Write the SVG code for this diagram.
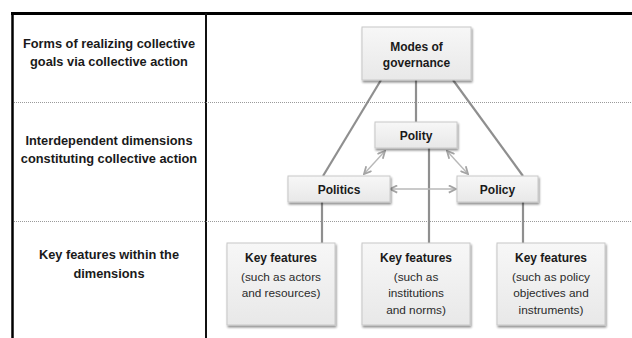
<svg xmlns="http://www.w3.org/2000/svg" width="632" height="338" viewBox="0 0 632 338">
  <style>
    .lbl { font-family: "Liberation Sans", Arial, sans-serif; font-weight: bold; font-size: 12.8px; fill: #1a1a1a; text-anchor: middle; }
    .nb { font-family: "Liberation Sans", Arial, sans-serif; font-weight: bold; font-size: 12px; fill: #1a1a1a; text-anchor: middle; }
    .nt { font-family: "Liberation Sans", Arial, sans-serif; font-size: 11.8px; fill: #2a2a2a; text-anchor: middle; }
    .box { fill: url(#boxfill); stroke: #c8c8c8; stroke-width: 1; filter: url(#shadow); }
    .link { stroke: #8f8f8f; stroke-width: 2.2; fill: none; }
    .dual { stroke: #b8b8b8; stroke-width: 1.4; fill: none; marker-start: url(#chev); marker-end: url(#chev); }
    .sep { stroke: #9a9a9a; stroke-width: 1; stroke-dasharray: 1 1; }
  </style>
  <defs>
    <linearGradient id="boxfill" x1="0" y1="0" x2="0" y2="1">
      <stop offset="0" stop-color="#f7f7f7"/>
      <stop offset="1" stop-color="#e8e8e8"/>
    </linearGradient>
    <filter id="shadow" x="-10%" y="-10%" width="125%" height="130%">
      <feGaussianBlur in="SourceAlpha" stdDeviation="1.2"/>
      <feOffset dx="0.5" dy="1.5" result="b"/>
      <feComponentTransfer><feFuncA type="linear" slope="0.45"/></feComponentTransfer>
      <feMerge><feMergeNode/><feMergeNode in="SourceGraphic"/></feMerge>
    </filter>
    <marker id="chev" viewBox="0 0 10 10" refX="9" refY="5" markerWidth="9" markerHeight="9" orient="auto-start-reverse" markerUnits="userSpaceOnUse">
      <path d="M1,1 L9,5 L1,9" fill="none" stroke="#a4a4a4" stroke-width="2"/>
    </marker>
  </defs>

  <rect width="632" height="338" fill="#ffffff"/>

  <!-- table frame -->
  <g id="frame">
    <line x1="11" y1="13.5" x2="632" y2="13.5" stroke="#000" stroke-width="3"/>
    <line x1="12.5" y1="12" x2="12.5" y2="338" stroke="#000" stroke-width="2.5"/>
    <line x1="206" y1="13" x2="206" y2="338" stroke="#111" stroke-width="2"/>
    <line class="sep" x1="14" y1="102.5" x2="632" y2="102.5"/>
    <line class="sep" x1="14" y1="221.5" x2="632" y2="221.5"/>
  </g>

  <!-- row labels -->
  <g id="row-labels">
    <text class="lbl" x="109" y="48">Forms of realizing collective</text>
    <text class="lbl" x="109" y="66">goals via collective action</text>
    <text class="lbl" x="109" y="145">Interdependent dimensions</text>
    <text class="lbl" x="109" y="163">constituting collective action</text>
    <text class="lbl" x="109" y="259">Key features within the</text>
    <text class="lbl" x="109" y="278">dimensions</text>
  </g>

  <!-- connectors -->
  <g id="connectors">
    <line class="link" x1="381" y1="80" x2="323" y2="176"/>
    <line class="link" x1="416" y1="80" x2="416" y2="122"/>
    <line class="link" x1="453" y1="80" x2="523" y2="176"/>
    <line class="link" x1="429" y1="148" x2="429" y2="243"/>
    <line class="link" x1="322" y1="202" x2="322" y2="243"/>
    <line class="link" x1="523" y1="202" x2="523" y2="243"/>
    <line class="dual" x1="385" y1="151" x2="364" y2="174"/>
    <line class="dual" x1="447" y1="151" x2="468" y2="174"/>
    <line class="dual" x1="390" y1="189" x2="456" y2="189"/>
  </g>

  <!-- nodes -->
  <g id="modes">
    <rect class="box" x="362" y="27" width="109" height="53"/>
    <text class="nb" x="416.5" y="51">Modes of</text>
    <text class="nb" x="416.5" y="67">governance</text>
  </g>
  <g id="polity">
    <rect class="box" x="375" y="122" width="82" height="26"/>
    <text class="nb" x="416" y="139.5">Polity</text>
  </g>
  <g id="politics">
    <rect class="box" x="288" y="176" width="102" height="26"/>
    <text class="nb" x="339" y="193.5">Politics</text>
  </g>
  <g id="policy">
    <rect class="box" x="457" y="176" width="81" height="26"/>
    <text class="nb" x="497.5" y="193.5">Policy</text>
  </g>
  <g id="features-politics">
    <rect class="box" x="227" y="243" width="108" height="82"/>
    <text class="nb" x="281" y="262">Key features</text>
    <text class="nt" x="281" y="281">(such as actors</text>
    <text class="nt" x="281" y="297">and resources)</text>
  </g>
  <g id="features-polity">
    <rect class="box" x="362" y="243" width="108" height="82"/>
    <text class="nb" x="416" y="262">Key features</text>
    <text class="nt" x="416" y="281">(such as</text>
    <text class="nt" x="416" y="297">institutions</text>
    <text class="nt" x="416" y="314">and norms)</text>
  </g>
  <g id="features-policy">
    <rect class="box" x="497" y="243" width="108" height="82"/>
    <text class="nb" x="551" y="262">Key features</text>
    <text class="nt" x="551" y="281">(such as policy</text>
    <text class="nt" x="551" y="297">objectives and</text>
    <text class="nt" x="551" y="314">instruments)</text>
  </g>
</svg>
